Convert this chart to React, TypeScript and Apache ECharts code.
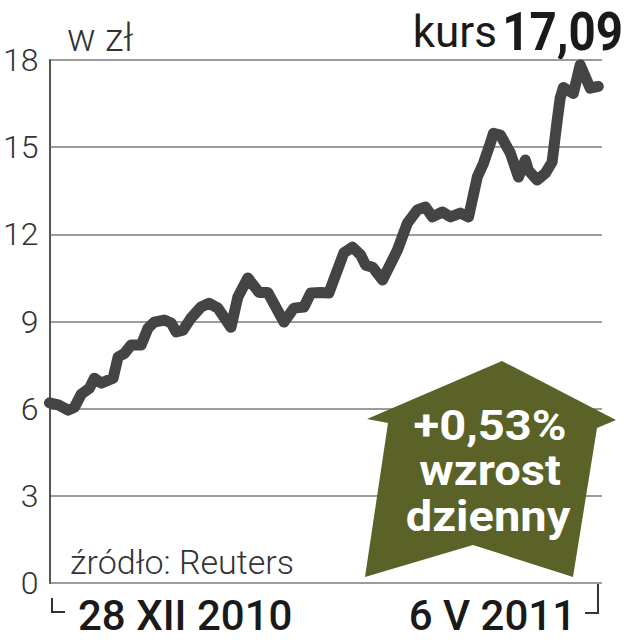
import React, { useEffect, useRef } from "react";
import * as echarts from "echarts";

// trading-day position (0 = 28 XII 2010, 88 = 6 V 2011) and close price in zł
const days = [0, 1.4, 3, 4, 5.1, 6.4, 7.2, 8.3, 10.2, 11, 12, 13.1, 14.7, 15.8, 16.8, 18.4, 19.5, 20.3, 21.4, 22.7, 24.3, 25.6, 27, 29.1, 30.2, 31.8, 33.6, 35, 37.6, 39.2, 40.8, 41.9, 43.5, 44.8, 47.2, 48.6, 49.9, 50.7, 51.8, 53.4, 55.8, 57.4, 59, 60.3, 61.4, 63, 64.3, 65.9, 67.2, 68.6, 69.6, 70.7, 71.2, 72.3, 73.9, 75.2, 76.3, 76.8, 78.2, 79.5, 80.6, 81.4, 81.9, 82.4, 84, 85.1, 86.7, 88];
const prices = [6.2, 6.13, 5.95, 6.05, 6.5, 6.7, 7.05, 6.88, 7.05, 7.78, 7.9, 8.19, 8.19, 8.77, 8.98, 9.05, 8.95, 8.64, 8.7, 9.12, 9.5, 9.63, 9.46, 8.8, 9.84, 10.5, 10.0, 10.0, 8.98, 9.46, 9.5, 9.98, 10.0, 9.98, 11.36, 11.56, 11.29, 10.94, 10.87, 10.43, 11.46, 12.39, 12.84, 12.94, 12.6, 12.77, 12.6, 12.73, 12.6, 13.97, 14.45, 15.14, 15.48, 15.42, 14.8, 13.97, 14.56, 14.2, 13.87, 14.1, 14.49, 15.9, 16.7, 17.05, 16.85, 17.83, 17.03, 17.09];
const yTicks = [0, 3, 6, 9, 12, 15, 18];
const startLabel = "28 XII 2010";
const endLabel = "6 V 2011";
const unitLabel = "w zł";
const priceLabel = "17,09";
const changeLabel = "+0,53%";
const sourceLabel = "źródło: Reuters";

export default function App() {
  const ref = useRef<HTMLDivElement>(null);
  useEffect(() => {
    document.body.style.margin = "0";
    const chart = echarts.init(ref.current!, null, { renderer: "svg" });
    const olive = "#5a6227";
    const white = (text: string, x: number, y: number) => ({
      type: "text", z: 60, x, y, scaleX: 1.12,
      style: {
        text, fontFamily: "Roboto", fontWeight: "bold", fontSize: 42, lineHeight: 42,
        fill: "#fff", align: "center", verticalAlign: "middle",
      },
    });
    chart.setOption({
      animation: false,
      grid: { left: 48, right: 27, top: 60, bottom: 57 },
      xAxis: {
        type: "value",
        min: 0,
        max: 88.6,
        show: false,
      },
      yAxis: {
        type: "value",
        min: yTicks[0],
        max: yTicks[yTicks.length - 1],
        interval: 3,
        axisLine: { show: true, lineStyle: { color: "#555", width: 2 } },
        axisTick: { show: false },
        splitLine: { lineStyle: { color: "#9c9c9c", width: 2 } },
        axisLabel: {
          fontFamily: "Roboto",
          fontWeight: 300,
          fontSize: 32,
          color: "#333",
          margin: 11,
        },
      },
      graphic: [
        {
          type: "polygon",
          z: 50,
          shape: {
            points: [
              [502, 361], [616, 420], [597, 428], [573, 577], [473, 545],
              [365, 577], [388, 423], [367, 419],
            ],
          },
          style: { fill: olive },
        },
        white(changeLabel, 490, 426),
        white("wzrost", 490, 471),
        white("dzienny", 488, 517),
        {
          type: "text", x: 67, y: 38,
          style: { text: unitLabel, fontFamily: "Roboto", fontWeight: 300, fontSize: 38, fill: "#333", align: "left", verticalAlign: "middle" },
        },
        {
          type: "text", x: 497, y: 32,
          style: { text: "kurs", fontFamily: "Roboto", fontWeight: "normal", fontSize: 44, fill: "#1a1a1a", align: "right", verticalAlign: "middle" },
        },
        {
          type: "text", x: 623, y: 31, scaleX: 0.88,
          style: { text: priceLabel, fontFamily: "Roboto", fontWeight: "bold", fontSize: 54, fill: "#1a1a1a", align: "right", verticalAlign: "middle" },
        },
        {
          type: "text", x: 70, y: 562,
          style: { text: sourceLabel, fontFamily: "Roboto", fontWeight: 300, fontSize: 34, fill: "#333", align: "left", verticalAlign: "middle" },
        },
        {
          type: "text", x: 78, y: 615,
          style: { text: startLabel, fontFamily: "Roboto", fontWeight: 500, fontSize: 42, fill: "#1a1a1a", align: "left", verticalAlign: "middle" },
        },
        {
          type: "text", x: 576, y: 615,
          style: { text: endLabel, fontFamily: "Roboto", fontWeight: 500, fontSize: 42, fill: "#1a1a1a", align: "right", verticalAlign: "middle" },
        },
        {
          type: "polyline",
          shape: { points: [[52, 598], [52, 612], [65, 612]] },
          style: { stroke: "#333", lineWidth: 2, fill: "none" },
        },
        {
          type: "polyline",
          shape: { points: [[585, 613], [598, 613], [598, 583]] },
          style: { stroke: "#333", lineWidth: 2, fill: "none" },
        },
      ],
      series: [
        {
          type: "line",
          data: days.map((d, i) => [d, prices[i]]),
          showSymbol: false,
          smooth: false,
          z: 10,
          lineStyle: { color: "#444", width: 11, join: "round", cap: "round" },
        },
      ],
    });
    return () => chart.dispose();
  }, []);
  return <div ref={ref} style={{ width: 629, height: 640 }} />;
}
